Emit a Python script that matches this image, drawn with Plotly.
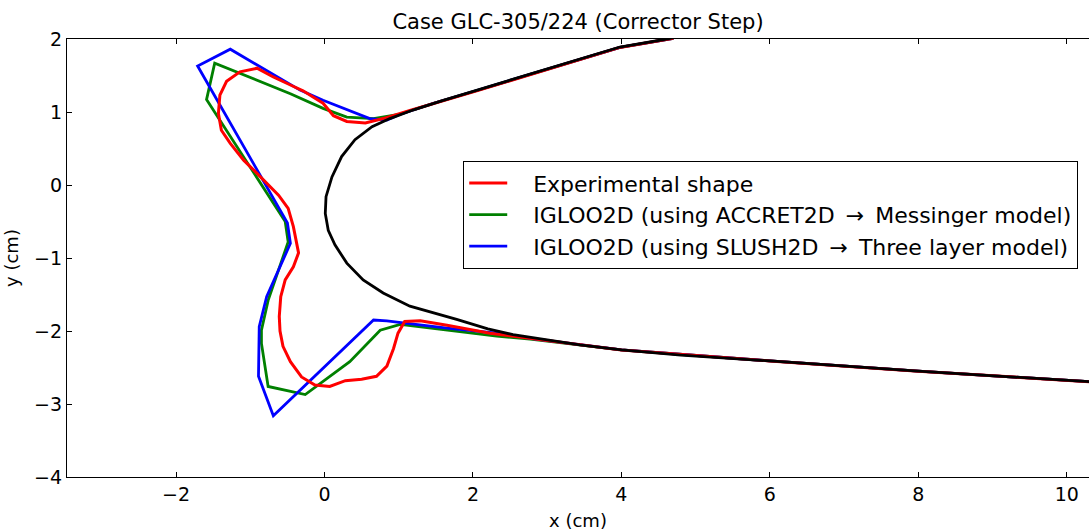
import plotly.graph_objects as go

# Clean airfoil (black)
airfoil_x = [10.4, 8.0, 6.0, 4.8, 4.0, 3.44, 3.0, 2.54, 2.2, 1.78, 1.15, 0.79, 0.52, 0.30, 0.14, 0.05, 0.01,
             0.02, 0.10, 0.23, 0.41, 0.64, 0.88, 1.20, 1.60, 2.05, 3.0, 3.98, 4.61, 5.0]
airfoil_y = [-2.70, -2.55, -2.41, -2.33, -2.26, -2.19, -2.12, -2.05, -1.97, -1.84, -1.66, -1.48, -1.30, -1.07,
             -0.82, -0.62, -0.39, -0.16, 0.11, 0.39, 0.62, 0.80, 0.91, 1.03, 1.16, 1.30, 1.59, 1.89, 2.0, 2.08]

# Experimental ice shape (red)
exp_x = [4.7, 3.98, 2.05, 1.47, 1.15, 0.79, 0.55, 0.30, 0.12, -0.02, -0.29, -0.46, -0.69, -0.91, -1.14,
         -1.32, -1.41, -1.43, -1.39, -1.27, -1.09, -0.92, -0.78, -0.62, -0.49, -0.42, -0.35, -0.42, -0.53,
         -0.59, -0.61, -0.60, -0.56, -0.46, -0.31, -0.13, 0.07, 0.28, 0.50, 0.70, 0.84, 0.93, 0.99, 1.08,
         1.29, 1.65, 2.23, 2.77, 3.44, 4.0, 6.0, 8.0, 10.4]
exp_y = [2.01, 1.885, 1.29, 1.11, 1.02, 0.91, 0.85, 0.87, 0.95, 1.12, 1.29, 1.37, 1.48, 1.60, 1.55,
         1.42, 1.23, 0.98, 0.75, 0.57, 0.34, 0.17, 0.02, -0.14, -0.32, -0.57, -0.93, -1.12, -1.30,
         -1.53, -1.80, -2.0, -2.21, -2.42, -2.63, -2.74, -2.76, -2.68, -2.66, -2.62, -2.48, -2.24, -2.03, -1.87,
         -1.86, -1.92, -2.03, -2.10, -2.19, -2.26, -2.41, -2.55, -2.70]

# IGLOO2D + ACCRET2D (green)
acc_x = [4.7, 3.98, 2.05, 1.47, 1.02, 0.66, 0.30, -0.02, -0.46, -1.48, -1.59, -0.53, -0.49, -0.76,
         -0.85, -0.85, -0.76, -0.26, 0.34, 0.75, 1.02, 1.65, 2.32, 2.77, 3.44, 4.0, 6.0, 8.0, 10.4]
acc_y = [2.01, 1.885, 1.295, 1.12, 0.97, 0.91, 0.93, 1.05, 1.25, 1.67, 1.17, -0.50, -0.78, -1.58,
         -1.99, -2.17, -2.76, -2.87, -2.42, -1.99, -1.91, -1.99, -2.07, -2.11, -2.19, -2.26, -2.41, -2.55, -2.70]

# IGLOO2D + SLUSH2D (blue)
slush_x = [4.7, 3.98, 2.05, 1.47, 1.02, 0.84, 0.61, -0.02, -0.33, -1.27, -1.71, -0.50, -0.46, -0.78,
           -0.88, -0.89, -0.69, 0.66, 0.84, 1.06, 1.65, 2.32, 2.77, 3.44, 4.0, 6.0, 8.0, 10.4]
slush_y = [2.01, 1.885, 1.295, 1.12, 0.97, 0.89, 0.91, 1.16, 1.30, 1.86, 1.63, -0.52, -0.80, -1.53,
           -1.94, -2.62, -3.16, -1.85, -1.86, -1.89, -1.96, -2.03, -2.10, -2.19, -2.26, -2.41, -2.55, -2.70]

x_ticks = [-2, 0, 2, 4, 6, 8, 10]
y_ticks = [-4, -3, -2, -1, 0, 1, 2]

font = 'DejaVu Sans'
pad = '\u00a0\u00a0\u00a0'  # push legend text right of the short line
arrow = '\u2002\u2192\u2002'

fig = go.Figure()
fig.add_trace(go.Scatter(x=acc_x, y=acc_y, mode='lines', line=dict(color='#008000', width=2.8),
                         name=pad + 'IGLOO2D (using ACCRET2D' + arrow + 'Messinger model)',
                         legendrank=2, legendgroup='g'))
fig.add_trace(go.Scatter(x=slush_x, y=slush_y, mode='lines', line=dict(color='#0000ff', width=2.8),
                         name=pad + 'IGLOO2D (using SLUSH2D' + arrow + 'Three layer model)',
                         legendrank=3, legendgroup='b'))
fig.add_trace(go.Scatter(x=exp_x, y=exp_y, mode='lines', line=dict(color='#ff0000', width=3),
                         name=pad + 'Experimental shape', legendrank=1, legendgroup='r'))
fig.add_trace(go.Scatter(x=airfoil_x, y=airfoil_y, mode='lines', line=dict(color='black', width=2.8),
                         showlegend=False))

fig.update_layout(
    width=1089, height=531,
    margin=dict(l=67, r=0, t=39, b=54),
    paper_bgcolor='white', plot_bgcolor='white',
    font=dict(family=font, size=19, color='black'),
    title=dict(text='Case GLC-305/224 (Corrector Step)', x=0.5, xref='paper', y=0.9586, yanchor='middle',
               font=dict(family=font, size=21, color='black')),
    legend=dict(x=0.3875, y=0.7215, xanchor='left', yanchor='top', bgcolor='white',
                bordercolor='black', borderwidth=1.2, tracegroupgap=0, itemwidth=38,
                font=dict(family=font, size=22, color='black')),
)
fig.update_xaxes(range=[-3.47, 10.3], tickvals=x_ticks, ticks='inside', ticklen=5, tickcolor='black',
                 showline=True, linecolor='black', linewidth=1.3, mirror='ticks', showgrid=False,
                 zeroline=False, automargin=False,
                 title=dict(text='x (cm)', standoff=14, font=dict(size=18)))
fig.update_yaxes(range=[-4, 2], tickvals=y_ticks, ticks='inside', ticklen=5, tickcolor='black',
                 showline=True, linecolor='black', linewidth=1.3, showgrid=False,
                 zeroline=False, automargin=False,
                 title=dict(text='y (cm)', standoff=10, font=dict(size=18)))

# drop the default 8px page margin so the figure sits at the window origin
fig.write_html("out.html", config={'displayModeBar': False},
               post_script="document.body.style.margin='0';")
